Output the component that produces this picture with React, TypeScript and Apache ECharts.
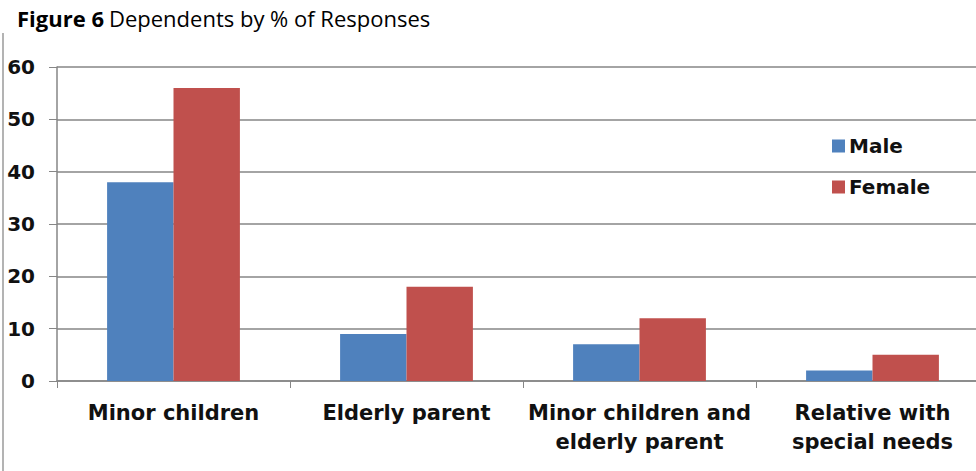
import React, { useEffect, useRef } from "react";
import * as echarts from "echarts";

const categories = [
  "Minor children",
  "Elderly parent",
  "Minor children and\nelderly parent",
  "Relative with\nspecial needs",
];
const maleValues = [38, 9, 7, 2];
const femaleValues = [56, 18, 12, 5];
const yTicks = { min: 0, max: 60, interval: 10 };

const AXIS_GRAY = "#868686";
const LABEL_FONT = "'DejaVu Sans', Arial, sans-serif";

export default function App() {
  const ref = useRef<HTMLDivElement>(null);

  useEffect(() => {
    if (!ref.current) return;
    const chart = echarts.init(ref.current, undefined, { renderer: "svg" });
    chart.setOption({
      animation: false,
      backgroundColor: "#ffffff",
      title: {
        left: 12,
        top: 2,
        text: "{b|Figure 6} {n|Dependents by % of Responses}",
        textStyle: {
          rich: {
            b: { fontFamily: "'Open Sans', sans-serif", fontWeight: "bold", fontSize: 22, color: "#000" },
            n: { fontFamily: "'Open Sans', sans-serif", fontWeight: "normal", fontSize: 22, color: "#000" },
          },
        },
      },
      legend: {
        orient: "vertical",
        left: 827,
        top: 131,
        itemWidth: 13,
        itemHeight: 13,
        itemGap: 21,
        icon: "rect",
        textStyle: {
          fontFamily: LABEL_FONT,
          fontWeight: "bold",
          fontSize: 20,
          color: "#111",
          padding: [0, 0, 0, -1],
        },
        data: ["Male", "Female"],
      },
      grid: {
        left: 57,
        top: 67,
        width: 932,
        height: 314,
        containLabel: false,
        outerBoundsMode: "none",
      },
      xAxis: {
        type: "category",
        data: categories,
        axisLine: { show: true, lineStyle: { color: AXIS_GRAY, width: 1.5 } },
        axisTick: { show: true, length: 7, lineStyle: { color: AXIS_GRAY } },
        axisLabel: {
          interval: 0,
          margin: 17,
          fontFamily: LABEL_FONT,
          fontWeight: "bold",
          fontSize: 21,
          lineHeight: 29,
          color: "#111",
        },
      },
      yAxis: {
        type: "value",
        min: yTicks.min,
        max: yTicks.max,
        interval: yTicks.interval,
        axisLine: { show: true, lineStyle: { color: AXIS_GRAY, width: 1.5 } },
        axisTick: { show: true, length: 8, lineStyle: { color: AXIS_GRAY } },
        splitLine: { show: true, lineStyle: { color: AXIS_GRAY, width: 1.5 } },
        axisLabel: {
          margin: 22,
          fontFamily: LABEL_FONT,
          fontWeight: "bold",
          fontSize: 20,
          color: "#111",
        },
      },
      series: [
        {
          name: "Male",
          type: "bar",
          data: maleValues,
          barGap: "0%",
          barCategoryGap: "43%",
          itemStyle: { color: "#4F81BD" },
        },
        {
          name: "Female",
          type: "bar",
          data: femaleValues,
          itemStyle: { color: "#C0504D" },
        },
      ],
      graphic: [
        {
          type: "line",
          shape: { x1: 3, y1: 33, x2: 3, y2: 471 },
          style: { stroke: "#9a9a9a", lineWidth: 1.5 },
        },
      ],
    });
    return () => chart.dispose();
  }, []);

  return (
    <div
      ref={ref}
      style={{ position: "fixed", left: 0, top: 0, width: 976, height: 471 }}
    />
  );
}
